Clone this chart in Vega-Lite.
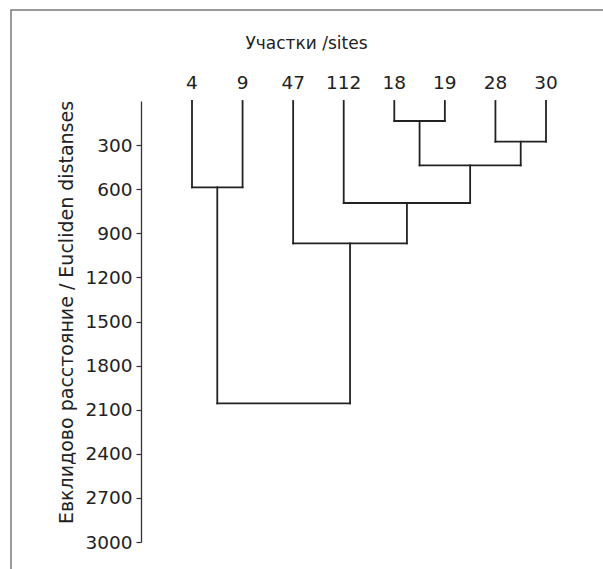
{
  "$schema": "https://vega.github.io/schema/vega-lite/v6.json",
  "autosize": {"type": "none"},
  "padding": {"left": 11, "top": 10, "right": -10, "bottom": -10},
  "width": 602,
  "height": 569,
  "background": "white",
  "config": {
    "view": {"stroke": "#7a7a7a", "strokeWidth": 1.5},
    "font": "DejaVu Sans",
    "axis": {"grid": false, "labelFont": "DejaVu Sans", "titleFont": "DejaVu Sans", "labelColor": "#222", "titleColor": "#222", "titleFontWeight": "normal"}
  },
  "datasets": {
    "merges": [
      {"left": 0, "right": 1, "leftH": 0, "rightH": 0, "h": 587},
      {"left": 4, "right": 5, "leftH": 0, "rightH": 0, "h": 136},
      {"left": 6, "right": 7, "leftH": 0, "rightH": 0, "h": 277},
      {"left": 4.5, "right": 6.5, "leftH": 136, "rightH": 277, "h": 438},
      {"left": 3, "right": 5.5, "leftH": 0, "rightH": 438, "h": 694},
      {"left": 2, "right": 4.25, "leftH": 0, "rightH": 694, "h": 969},
      {"left": 0.5, "right": 3.125, "leftH": 587, "rightH": 969, "h": 2057}
    ],
    "leaves": [
      {"pos": 0, "site": "4"},
      {"pos": 1, "site": "9"},
      {"pos": 2, "site": "47"},
      {"pos": 3, "site": "112"},
      {"pos": 4, "site": "18"},
      {"pos": 5, "site": "19"},
      {"pos": 6, "site": "28"},
      {"pos": 7, "site": "30"}
    ]
  },
  "layer": [
    {
      "data": {"name": "merges"},
      "mark": {"type": "rule", "color": "#222", "strokeWidth": 1.8, "strokeCap": "square"},
      "encoding": {
        "x": {
          "field": "left", "type": "quantitative",
          "scale": {"domain": [0, 7], "range": [181, 535], "nice": false, "zero": false},
          "axis": {
            "orient": "top", "offset": -89, "labels": false, "ticks": false, "domain": false,
            "title": "Участки /sites", "titleFontSize": 17, "titleX": 295, "titleY": -51,
            "titleAlign": "center", "titleBaseline": "alphabetic"
          }
        },
        "y": {
          "field": "leftH", "type": "quantitative",
          "scale": {"domain": [0, 3000], "range": [91, 532], "nice": false, "zero": false},
          "axis": {
            "orient": "left", "offset": -130, "format": "d",
            "values": [300, 600, 900, 1200, 1500, 1800, 2100, 2400, 2700, 3000],
            "tickSize": 5, "tickColor": "#333", "tickWidth": 1.2,
            "domainColor": "#333", "domainWidth": 1.3,
            "labelFontSize": 18.5, "labelPadding": 4,
            "title": "Евклидово расстояние / Eucliden distanses", "titleFontSize": 19,
            "titleAngle": -90, "titleAlign": "center", "titleBaseline": "middle",
            "titleX": -75, "titleY": 302
          }
        },
        "y2": {"field": "h"}
      }
    },
    {
      "data": {"name": "merges"},
      "mark": {"type": "rule", "color": "#222", "strokeWidth": 1.8, "strokeCap": "square"},
      "encoding": {
        "x": {"field": "right", "type": "quantitative"},
        "y": {"field": "rightH", "type": "quantitative"},
        "y2": {"field": "h"}
      }
    },
    {
      "data": {"name": "merges"},
      "mark": {"type": "rule", "color": "#222", "strokeWidth": 1.8, "strokeCap": "square"},
      "encoding": {
        "x": {"field": "left", "type": "quantitative"},
        "x2": {"field": "right"},
        "y": {"field": "h", "type": "quantitative"}
      }
    },
    {
      "data": {"name": "leaves"},
      "mark": {"type": "text", "font": "DejaVu Sans", "fontSize": 18.5, "color": "#222", "baseline": "alphabetic", "align": "center", "dy": -12},
      "encoding": {
        "x": {"field": "pos", "type": "quantitative"},
        "y": {"datum": 0, "type": "quantitative"},
        "text": {"field": "site"}
      }
    }
  ]
}
